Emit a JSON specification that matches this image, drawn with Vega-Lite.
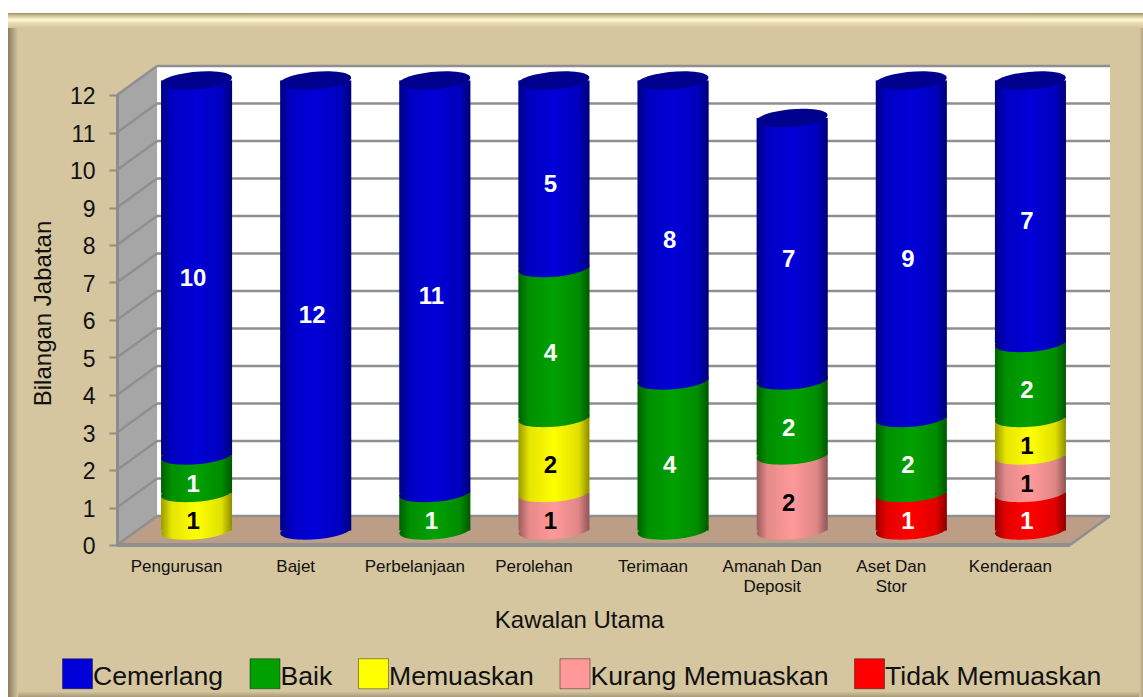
{
"$schema":"https://vega.github.io/schema/vega-lite/v6.json",
"width":953,"height":450,
"autosize":{"type":"none"},
"padding":{"left":117,"top":95,"right":73,"bottom":152},
"background":"white",
"config":{"font":"Liberation Sans","view":{"stroke":null},"axisY":{"tickCount":13,"labelOverlap":false,"tickMinStep":1}},
"datasets":{
"scores":[
{"kawalan":"Pengurusan","penilaian":"Memuaskan","rank":3,"bilangan":1},
{"kawalan":"Pengurusan","penilaian":"Baik","rank":4,"bilangan":1},
{"kawalan":"Pengurusan","penilaian":"Cemerlang","rank":5,"bilangan":10},
{"kawalan":"Bajet","penilaian":"Cemerlang","rank":5,"bilangan":12},
{"kawalan":"Perbelanjaan","penilaian":"Baik","rank":4,"bilangan":1},
{"kawalan":"Perbelanjaan","penilaian":"Cemerlang","rank":5,"bilangan":11},
{"kawalan":"Perolehan","penilaian":"Kurang Memuaskan","rank":2,"bilangan":1},
{"kawalan":"Perolehan","penilaian":"Memuaskan","rank":3,"bilangan":2},
{"kawalan":"Perolehan","penilaian":"Baik","rank":4,"bilangan":4},
{"kawalan":"Perolehan","penilaian":"Cemerlang","rank":5,"bilangan":5},
{"kawalan":"Terimaan","penilaian":"Baik","rank":4,"bilangan":4},
{"kawalan":"Terimaan","penilaian":"Cemerlang","rank":5,"bilangan":8},
{"kawalan":"Amanah Dan Deposit","penilaian":"Kurang Memuaskan","rank":2,"bilangan":2},
{"kawalan":"Amanah Dan Deposit","penilaian":"Baik","rank":4,"bilangan":2},
{"kawalan":"Amanah Dan Deposit","penilaian":"Cemerlang","rank":5,"bilangan":7},
{"kawalan":"Aset Dan Stor","penilaian":"Tidak Memuaskan","rank":1,"bilangan":1},
{"kawalan":"Aset Dan Stor","penilaian":"Baik","rank":4,"bilangan":2},
{"kawalan":"Aset Dan Stor","penilaian":"Cemerlang","rank":5,"bilangan":9},
{"kawalan":"Kenderaan","penilaian":"Tidak Memuaskan","rank":1,"bilangan":1},
{"kawalan":"Kenderaan","penilaian":"Kurang Memuaskan","rank":2,"bilangan":1},
{"kawalan":"Kenderaan","penilaian":"Memuaskan","rank":3,"bilangan":1},
{"kawalan":"Kenderaan","penilaian":"Baik","rank":4,"bilangan":2},
{"kawalan":"Kenderaan","penilaian":"Cemerlang","rank":5,"bilangan":7}
],
"ticks":[{"t":0},{"t":1},{"t":2},{"t":3},{"t":4},{"t":5},{"t":6},{"t":7},{"t":8},{"t":9},{"t":10},{"t":11},{"t":12}],
"slants":[
{"a":0,"b":0.336,"lo":0,"hi":0.773},{"a":0,"b":0.336,"lo":1,"hi":1.773},{"a":0,"b":0.336,"lo":2,"hi":2.773},{"a":0,"b":0.336,"lo":3,"hi":3.773},{"a":0,"b":0.336,"lo":4,"hi":4.773},{"a":0,"b":0.336,"lo":5,"hi":5.773},{"a":0,"b":0.336,"lo":6,"hi":6.773},{"a":0,"b":0.336,"lo":7,"hi":7.773},{"a":0,"b":0.336,"lo":8,"hi":8.773},{"a":0,"b":0.336,"lo":9,"hi":9.773},{"a":0,"b":0.336,"lo":10,"hi":10.773},{"a":0,"b":0.336,"lo":11,"hi":11.773},{"a":0,"b":0.336,"lo":12,"hi":12.773},{"a":8,"b":8.336,"lo":0,"hi":0.773}
]
},
"resolve":{"scale":{"x":"independent"}},
"layer":[
{
"data":{"values":[{"n":1}]},
"layer":[
{"mark":{"type":"rect","fill":"#d5c69f"},"encoding":{"x":{"datum":-0.915,"type":"quantitative","scale":{"domain":[0,8]},"axis":null},"x2":{"datum":8.613},
"y":{"datum":14.187,"type":"quantitative","scale":{"domain":[0,12],"nice":false},"axis":{"values":[0,1,2,3,4,5,6,7,8,9,10,11,12],"labelOverlap":false,"grid":false,"zindex":1,"title":"Bilangan Jabatan","titleFontSize":24,"titleFontWeight":"normal","titleColor":"#111111","titleX":-74,"titleY":218,"titleAlign":"center","titleBaseline":"middle","labelFontSize":23,"labelColor":"#111111","labelPadding":14,"labelOffset":1.5,"tickSize":8,"tickColor":"#8c8c8c","tickWidth":2,"domainColor":"#8c8c8c","domainWidth":3}},"y2":{"datum":-4.053}}},
{"mark":{"type":"rect","fill":{"x1":0,"y1":0,"x2":0,"y2":1,"gradient":"linear","stops":[{"offset":0,"color":"#9c8e6a"},{"offset":0.15,"color":"#c8b98f"},{"offset":0.45,"color":"#fff8d0"},{"offset":0.7,"color":"#e6dab0"},{"offset":1,"color":"#d5c69f"}]}},"encoding":{"x":{"datum":-0.915,"type":"quantitative"},"x2":{"datum":8.613},"y":{"datum":14.187,"type":"quantitative"},"y2":{"datum":13.787}}},
{"mark":{"type":"rect","fill":{"x1":0,"y1":0,"x2":1,"y2":0,"gradient":"linear","stops":[{"offset":0,"color":"#8a7e60"},{"offset":0.4,"color":"#a89a78"},{"offset":1,"color":"#d5c69f"}]}},"encoding":{"x":{"datum":-0.915,"type":"quantitative"},"x2":{"datum":-0.83},"y":{"datum":13.787,"type":"quantitative"},"y2":{"datum":-4.053}}},
{"mark":{"type":"rect","fill":{"x1":0,"y1":0,"x2":0,"y2":1,"gradient":"linear","stops":[{"offset":0,"color":"#d5c69f"},{"offset":1,"color":"#a89a78"}]}},"encoding":{"x":{"datum":-0.83,"type":"quantitative"},"x2":{"datum":8.613},"y":{"datum":-3.9,"type":"quantitative"},"y2":{"datum":-4.053}}},
{"mark":{"type":"rect","fill":{"x1":0,"y1":0,"x2":1,"y2":0,"gradient":"linear","stops":[{"offset":0,"color":"#d5c69f"},{"offset":1,"color":"#b3a682"}]}},"encoding":{"x":{"datum":8.58,"type":"quantitative"},"x2":{"datum":8.613},"y":{"datum":13.787,"type":"quantitative"},"y2":{"datum":-4.053}}},
{"mark":{"type":"rect","fill":"white"},"encoding":{"x":{"datum":0.336,"type":"quantitative"},"x2":{"datum":8.336},"y":{"datum":0.773,"type":"quantitative"},"y2":{"datum":12.773}}},
{"data":{"values":[{"d":0,"lo":0,"hi":12},{"d":0.336,"lo":0.773,"hi":12.773}]},"mark":{"type":"area","orient":"vertical","fill":"#a6a6a6"},"encoding":{"x":{"field":"d","type":"quantitative"},"y":{"field":"lo","type":"quantitative"},"y2":{"field":"hi"}}},
{"data":{"values":[{"d":0,"lo":0,"hi":0},{"d":0.336,"lo":0,"hi":0.773},{"d":8,"lo":0,"hi":0.773},{"d":8.336,"lo":0.773,"hi":0.773}]},"mark":{"type":"area","orient":"vertical","fill":"#bc9e87"},"encoding":{"x":{"field":"d","type":"quantitative"},"y":{"field":"lo","type":"quantitative"},"y2":{"field":"hi"}}},
{"data":{"name":"ticks"},"mark":{"type":"rule","color":"#8f8f8f","strokeWidth":2.5,"yOffset":-29,"y2Offset":-29},"encoding":{"x":{"datum":0.336,"type":"quantitative"},"x2":{"datum":8.336},"y":{"field":"t","type":"quantitative"}}},
{"data":{"name":"slants"},"mark":{"type":"rule","color":"#8f8f8f","strokeWidth":2.5},"encoding":{"x":{"field":"a","type":"quantitative"},"x2":{"field":"b"},"y":{"field":"lo","type":"quantitative"},"y2":{"field":"hi"}}},
{"mark":{"type":"rule","color":"#8f8f8f","strokeWidth":4},"encoding":{"x":{"datum":0,"type":"quantitative"},"x2":{"datum":8},"y":{"datum":0,"type":"quantitative"}}}
]
},
{
"data":{"name":"scores"},
"transform":[{"stack":"bilangan","groupby":["kawalan"],"sort":[{"field":"rank","order":"ascending"}],"as":["dari","hingga"]}],
"encoding":{
"x":{"field":"kawalan","type":"nominal","sort":null,"scale":{"domain":["Pengurusan","Bajet","Perbelanjaan","Perolehan","Terimaan","Amanah Dan Deposit","Aset Dan Stor","Kenderaan"],"paddingInner":0,"paddingOuter":0},
"axis":{"orient":"bottom","zindex":1,"title":"Kawalan Utama","titleFontSize":24,"titleFontWeight":"normal","titleColor":"#111111","titleX":462,"titleY":75,"titleBaseline":"middle","labelAngle":0,"labelFontSize":17,"labelColor":"#111111","labelPadding":21,"labelLineHeight":20,"labelBaseline":"middle","tickSize":0,"domain":false,"labelExpr":"datum.label=='Amanah Dan Deposit'?['Amanah Dan','Deposit']:datum.label=='Aset Dan Stor'?['Aset Dan','Stor']:datum.label"}}
},
"layer":[
{"mark":{"type":"bar","size":71,"xOffset":20,"yOffset":-14.5,"y2Offset":-14.5},
"encoding":{
"y":{"field":"dari","type":"quantitative","scale":{"domain":[0,12],"nice":false}},
"y2":{"field":"hingga"},
"fill":{"field":"penilaian","type":"nominal","scale":{"domain":["Cemerlang","Baik","Memuaskan","Kurang Memuaskan","Tidak Memuaskan"],"range":["#0000d8","#00a000","#ffff00","#ff9999","#ff0000"]},
"legend":{"title":null,"orient":"none","legendX":-55,"legendY":563,"direction":"horizontal","columns":5,"symbolType":"square","symbolSize":900,"symbolStrokeWidth":1,"symbolStrokeColor":"#00000066","labelFontSize":26.6,"labelColor":"#111111","labelLimit":400,"labelOffset":0,"columnPadding":23.5,"symbolOpacity":1,
"encode":{"labels":{"update":{"dy":{"value":3}}}}}}
}},
{"mark":{"type":"bar","size":71,"xOffset":20,"yOffset":-14.5,"y2Offset":-14.5,"fill":{"x1":0,"y1":0,"x2":1,"y2":0,"gradient":"linear","stops":[{"offset":0,"color":"rgba(0,0,0,0.4)"},{"offset":0.15,"color":"rgba(0,0,0,0.1)"},{"offset":0.5,"color":"rgba(0,0,0,0)"},{"offset":0.85,"color":"rgba(0,0,0,0.12)"},{"offset":1,"color":"rgba(0,0,0,0.45)"}]}},
"encoding":{
"y":{"field":"dari","type":"quantitative"},
"y2":{"field":"hingga"}
}},
{"mark":{"type":"point","filled":true,"opacity":1,"shape":"M-0.996,0.087 A1,0.24 -5 1 1 0.996,-0.087 A1,0.24 -5 1 1 -0.996,0.087 Z","size":5041,"xOffset":20,"yOffset":-14.5},
"encoding":{
"y":{"field":"dari","type":"quantitative"},
"fill":{"field":"penilaian","type":"nominal","legend":null}
}},
{"mark":{"type":"point","filled":true,"opacity":1,"fill":{"x1":0,"y1":0,"x2":1,"y2":0,"gradient":"linear","stops":[{"offset":0,"color":"rgba(0,0,0,0.4)"},{"offset":0.15,"color":"rgba(0,0,0,0.1)"},{"offset":0.5,"color":"rgba(0,0,0,0)"},{"offset":0.85,"color":"rgba(0,0,0,0.12)"},{"offset":1,"color":"rgba(0,0,0,0.45)"}]},"shape":"M-0.996,0.087 A1,0.24 -5 1 1 0.996,-0.087 A1,0.24 -5 1 1 -0.996,0.087 Z","size":5041,"xOffset":20,"yOffset":-14.5},
"encoding":{
"y":{"field":"dari","type":"quantitative"}
}},
{"transform":[{"filter":"datum.rank==5"}],"mark":{"type":"point","filled":true,"opacity":1,"color":"#00008e","shape":"M-0.996,0.087 A1,0.24 -5 1 1 0.996,-0.087 A1,0.24 -5 1 1 -0.996,0.087 Z","size":5041,"xOffset":20,"yOffset":-14.5},
"encoding":{
"y":{"field":"hingga","type":"quantitative"}
}},
{"mark":{"type":"text","fontSize":24,"fontWeight":"bold","xOffset":16.5,"yOffset":-4,"align":"center","baseline":"middle"},
"encoding":{
"y":{"field":"bilangan","type":"quantitative","stack":"zero","bandPosition":0.5},
"order":{"field":"rank","type":"quantitative"},
"text":{"field":"bilangan","type":"quantitative"},
"color":{"condition":{"test":"datum.rank==2||datum.rank==3","value":"black"},"value":"white"}
}}
]
}
]
}
